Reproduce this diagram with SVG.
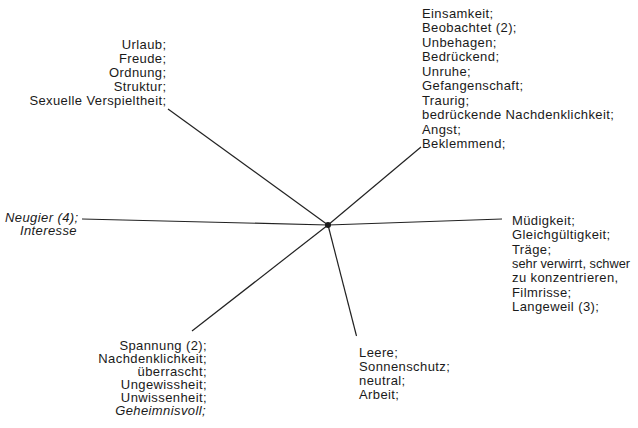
<svg xmlns="http://www.w3.org/2000/svg" width="638" height="428" viewBox="0 0 638 428">
<style>
text{font-family:"Liberation Sans",Arial,sans-serif;font-size:13px;letter-spacing:0.4px;fill:#1a1a1a}
.e{text-anchor:end}
.i{font-style:italic}
.n{letter-spacing:0;font-size:12.8px}
.c line{stroke:#222;stroke-width:1.2}
</style>
<rect width="638" height="428" fill="#fff"/>
<g id="connectors" class="c">
<line x1="328" y1="225" x2="168" y2="109"/>
<line x1="328" y1="225" x2="421" y2="147"/>
<line x1="328" y1="225" x2="82" y2="219"/>
<line x1="328" y1="225" x2="502" y2="219"/>
<line x1="328" y1="225" x2="192" y2="331"/>
<line x1="328" y1="225" x2="356.5" y2="336"/>
</g>
<g id="center"><circle cx="328" cy="225" r="3" fill="#1a1a1a"/></g>
<g id="n-topleft">
<text class="e" x="166.5" y="49">Urlaub;</text>
<text class="e" x="166.5" y="63">Freude;</text>
<text class="e" x="166.5" y="77">Ordnung;</text>
<text class="e" x="166.5" y="91">Struktur;</text>
<text class="e" x="166.5" y="105">Sexuelle Verspieltheit;</text>
</g>
<g id="n-topright">
<text x="422" y="17.5">Einsamkeit;</text>
<text x="422" y="32">Beobachtet (2);</text>
<text x="422" y="46.5">Unbehagen;</text>
<text x="422" y="61">Bedrückend;</text>
<text x="422" y="75.5">Unruhe;</text>
<text x="422" y="90">Gefangenschaft;</text>
<text x="422" y="104.5">Traurig;</text>
<text x="422" y="119">bedrückende Nachdenklichkeit;</text>
<text x="422" y="133.5">Angst;</text>
<text x="422" y="148">Beklemmend;</text>
</g>
<g id="n-left">
<text class="e i" x="78.5" y="221.5">Neugier (4);</text>
<text class="e i" x="77" y="235">Interesse</text>
</g>
<g id="n-right">
<text x="512" y="225">Müdigkeit;</text>
<text x="512" y="239.3">Gleichgültigkeit;</text>
<text x="512" y="253.6">Träge;</text>
<text class="n" x="512" y="267.9">sehr verwirrt, schwer</text>
<text x="512" y="282.2">zu konzentrieren,</text>
<text x="512" y="296.5">Filmrisse;</text>
<text x="512" y="310.8">Langeweil (3);</text>
</g>
<g id="n-bottomleft">
<text class="e" x="207" y="349.5">Spannung (2);</text>
<text class="e" x="207" y="362.5">Nachdenklichkeit;</text>
<text class="e" x="207" y="375.5">überrascht;</text>
<text class="e" x="207" y="388.5">Ungewissheit;</text>
<text class="e" x="207" y="401.5">Unwissenheit;</text>
<text class="e i" x="206" y="414.5">Geheimnisvoll;</text>
</g>
<g id="n-bottom">
<text x="359" y="357">Leere;</text>
<text x="359" y="371">Sonnenschutz;</text>
<text x="359" y="385">neutral;</text>
<text x="359" y="399">Arbeit;</text>
</g>
</svg>
